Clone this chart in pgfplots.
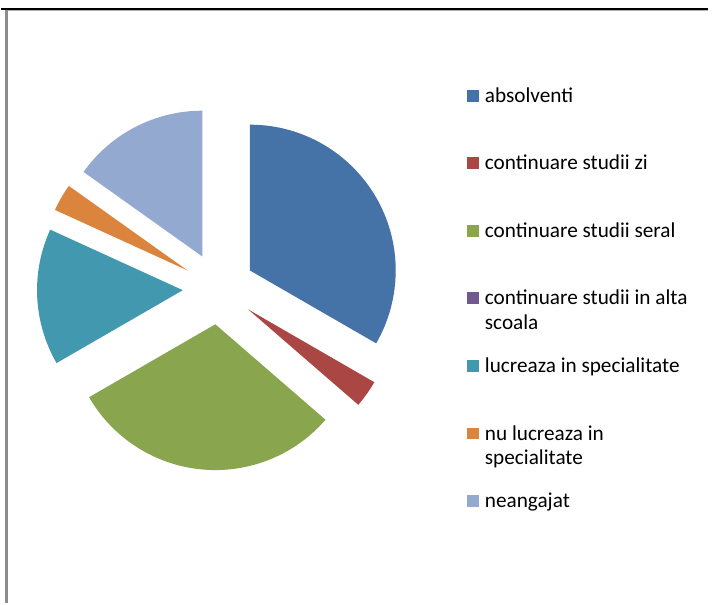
\documentclass[border=0pt]{standalone}
\usepackage{pgfplots}
\pgfplotsset{compat=1.18}
\usepackage{fontspec}
\setmainfont{Carlito}
\definecolor{c1}{RGB}{69,114,167}
\definecolor{c2}{RGB}{170,70,67}
\definecolor{c3}{RGB}{137,165,78}
\definecolor{c4}{RGB}{113,88,143}
\definecolor{c5}{RGB}{65,152,175}
\definecolor{c6}{RGB}{219,132,61}
\definecolor{c7}{RGB}{147,169,207}
\definecolor{framegray}{RGB}{140,140,140}
\definecolor{framegrayl}{RGB}{175,175,175}
\newcommand{\lentry}[1]{\raisebox{0pt}[8.75pt][25.33pt]{\parbox[t]{115pt}{\raggedright #1}}}
\pgfplotsset{sqleg/.style={legend image code/.code={\path[use as bounding box,draw=none,fill=none] (0pt,-17.04pt) rectangle (6pt,17.04pt); \fill[##1] (0pt,8.6pt) rectangle (6pt,14.6pt);}}}
% values: absolventi, cont. zi, cont. seral, cont. alta scoala, lucreaza spec., nu lucreaza spec., neangajat
\def\slices{33/c1,3/c2,30/c3,0/c4,15/c5,3/c6,15/c7}
\def\total{99}
\gdef\cum{0}
\gdef\piepaths{}
\foreach \v/\c in \slices {%
  \pgfmathsetmacro{\aone}{90-(\cum/\total)*360}%
  \pgfmathsetmacro{\atwo}{\aone-(\v/\total)*360}%
  \pgfmathsetmacro{\amid}{(\aone+\atwo)/2}%
  \pgfmathsetmacro{\ax}{219.6+36.3*cos(\amid)}%
  \pgfmathsetmacro{\ay}{317.1+36.3*sin(\amid)}%
  \ifdim\v pt>0pt
    \xdef\piepaths{\unexpanded\expandafter{\piepaths}\noexpand\fill[\c] (axis cs:\ax,\ay) -- ++(\aone:73.5pt) arc[start angle=\aone, end angle=\atwo, radius=73.5pt] -- cycle;}%
  \fi
  \pgfmathsetmacro{\newcum}{\cum+\v}%
  \xdef\cum{\newcum}%
}
\begin{document}
\begin{tikzpicture}
\begin{axis}[x=0.5pt,y=0.5pt,xmin=0,xmax=713,ymin=0,ymax=608,hide axis,clip=false,
  legend cell align=left,
  legend style={at={(0.65919,0.85938)},anchor=north west,draw=none,fill=none,inner sep=0pt,outer sep=0pt,
    nodes={inner sep=0pt,outer sep=0pt,text depth=},column sep=3pt,
    font=\fontsize{10.7pt}{12.5pt}\selectfont}]
\path (axis cs:0,0) rectangle (axis cs:713,608);
\draw[line width=0.6pt, framegrayl] (axis cs:5,597) -- (axis cs:713,597);
\draw[line width=1.2pt, framegray] (axis cs:5.5,598) -- (axis cs:5.5,0);
\draw[line width=1pt, black] (axis cs:0,598.6) -- (axis cs:713,598.6);
\piepaths
\addlegendimage{sqleg, fill=c1, draw=none}\addlegendentry{\lentry{absolventi}}
\addlegendimage{sqleg, fill=c2, draw=none}\addlegendentry{\lentry{continuare studii zi}}
\addlegendimage{sqleg, fill=c3, draw=none}\addlegendentry{\lentry{continuare studii seral}}
\addlegendimage{sqleg, fill=c4, draw=none}\addlegendentry{\lentry{continuare studii in alta\newline scoala}}
\addlegendimage{sqleg, fill=c5, draw=none}\addlegendentry{\lentry{lucreaza in specialitate}}
\addlegendimage{sqleg, fill=c6, draw=none}\addlegendentry{\lentry{nu lucreaza in\newline specialitate}}
\addlegendimage{sqleg, fill=c7, draw=none}\addlegendentry{\lentry{neangajat}}
\end{axis}
\end{tikzpicture}
\end{document}
